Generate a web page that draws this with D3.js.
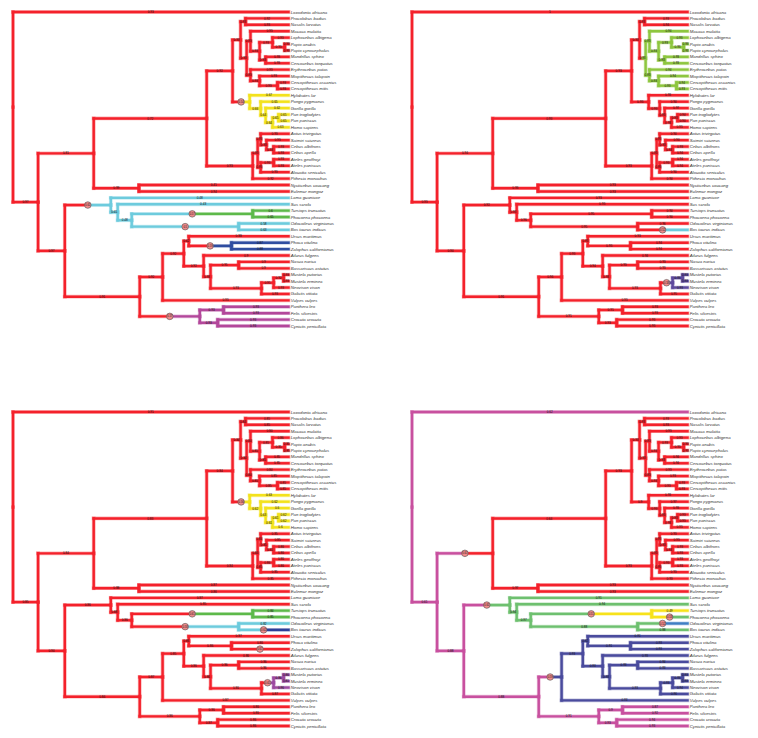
<!DOCTYPE html>
<html><head><meta charset="utf-8">
<script src="https://cdn.jsdelivr.net/npm/d3@7"></script>
<style>body{margin:0;background:#fff;} svg{display:block;}</style>
</head><body><svg id="c" width="758" height="738"></svg>
<script>
// ---------------- DATA ----------------
const taxa = ["Loxodonta africana","Procolobus badius","Nasalis larvatus","Macaca mulatta","Lophocebus albigena","Papio anubis","Papio cynocephalus","Mandrillus sphinx","Cercocebus torquatus","Erythrocebus patas","Miopithecus talapoin","Cercopithecus ascanius","Cercopithecus mitis","Hylobates lar","Pongo pygmaeus","Gorilla gorilla","Pan troglodytes","Pan paniscus","Homo sapiens","Aotus trivirgatus","Saimiri sciureus","Cebus albifrons","Cebus apella","Ateles geoffroyi","Ateles paniscus","Alouatta seniculus","Pithecia monachus","Nycticebus coucang","Eulemur mongoz","Lama guanicoe","Sus scrofa","Tursiops truncatus","Phocoena phocoena","Odocoileus virginianus","Bos taurus indicus","Ursus maritimus","Phoca vitulina","Zalophus californianus","Ailurus fulgens","Nasua narica","Bassariscus astutus","Mustela putorius","Mustela erminea","Neovison vison","Galictis vittata","Vulpes vulpes","Panthera leo","Felis silvestris","Crocuta crocuta","Cynictis penicillata"];

// topology: leaves are indices into taxa
const treeNewick = "(0,((((((1,2)Colobinae,((3,((4,(5,6)Papio)LophPap,(7,8)MandCerc)PapNode2)Papionini,(9,(10,(11,12)Cerco)MioCerco)Cercopithecini)Cercopithecinae)Cercopithecidae,(13,(14,(15,((16,17)Pan,18)Hominini)Homininae)Hominidae)Hominoidea)Catarrhini,(((19,(20,(21,22)Cebus)SaimCebus)Cebidae,((23,24)Ateles,25)Atelidae)CebAtel,26)Platyrrhini)Anthropoidea,(27,28)Strepsirrhini)Primates,((29,(30,((31,32)Cetacea,(33,34)Ruminantia)WhipRum)SusNode)Cetartiodactyla,((((35,(36,37)Pinnipedia)UrsPinn,(38,((39,40)Procyonidae,(((41,42)Mustela,43)MustNeo,44)Mustelidae)ProcMust)Musteloidea)Arctoidea,45)Caniformia,((46,47)Felidae,(48,49)HyaenHerp)Feliformia)Carnivora)Laurasiatheria)Boreoeutheria)Root;";

// node ages (tips = 0)
const nodeNames = ["Root","Boreoeutheria","Primates","Anthropoidea","Catarrhini","Cercopithecidae","Colobinae","Cercopithecinae","Papionini","PapNode2","LophPap","Papio","MandCerc","Cercopithecini","MioCerco","Cerco","Hominoidea","Hominidae","Homininae","Hominini","Pan","Platyrrhini","CebAtel","Cebidae","SaimCebus","Cebus","Atelidae","Ateles","Strepsirrhini","Laurasiatheria","Cetartiodactyla","SusNode","WhipRum","Cetacea","Ruminantia","Carnivora","Caniformia","Arctoidea","UrsPinn","Pinnipedia","Musteloidea","ProcMust","Procyonidae","Mustelidae","MustNeo","Mustela","Feliformia","Felidae","HyaenHerp"];
const nodeAgeValues = [100,90.9,70.7,29.7,20.3,17.4,15.6,15.2,13.8,10.5,5.8,1.4,8.3,13.8,10.5,4.0,14.1,10.1,8.3,5.8,3.6,13.0,11.2,10.1,8.0,5.4,10.1,5.4,54.3,81.2,64.5,62.0,56.9,13.0,18.1,54.0,45.7,38.0,36.2,20.7,30.8,28.3,18.1,9.8,5.4,1.8,32.2,23.6,25.7];

// edge labels (preorder edge order) for each panel
const labelsA = [0.93,0.97,0.81,0.72,0.92,0.93,0.93,0.92,0.93,0.93,0.93,0.93,0.93,0.93,0.93,0.93,0.93,0.93,0.93,0.93,0.93,0.93,0.93,0.93,0.93,0.93,0.93,0.93,
 0.54,0.67,0.66,0.65,0.64,0.62,0.64,0.65,0.65,0.65,0.63,
 0.93,0.93,0.93,0.93,0.93,0.93,0.93,0.93,0.93,0.93,0.93,0.93,0.93,0.93,0.92,
 0.99,0.41,0.94,
 0.97,0.61,0.48,0.65,0.43,0.48,0.57,0.6,0.65,0.5,0.58,0.63,
 0.91,0.92,0.92,0.62,0.88,0.59,0.87,0.88,0.92,0.9,0.93,0.91,0.9,0.9,0.93,0.91,0.92,0.93,0.93,0.93,0.93,0.93,
 0.57,0.93,0.93,0.93,0.93,0.93,0.93];
const labelsB = [1,0.93,0.94,0.93,0.93,0.93,0.93,0.93,0.94,0.93,0.93,0.94,0.93,0.93,0.93,0.93,0.93,0.93,0.93,0.93,0.93,0.93,0.94,0.93,0.94,0.93,0.94,0.93,
 0.93,0.93,0.93,0.94,0.93,0.97,0.93,0.93,0.94,0.94,0.93,
 0.93,0.93,0.93,0.94,0.93,0.94,0.93,0.93,0.94,0.93,0.93,0.94,0.94,0.94,0.94,
 0.93,0.93,0.93,
 0.94,0.92,0.93,0.93,0.93,0.96,0.95,0.94,0.94,0.95,0.96,0.52,
 0.91,0.94,0.93,0.93,0.93,0.93,0.94,0.94,0.94,0.94,0.93,0.93,0.93,0.93,0.93,0.58,0.93,0.93,0.93,0.93,0.95,0.93,
 0.91,0.91,0.93,0.93,0.93,0.93,0.93];
const labelsC = [0.91,0.85,0.84,0.83,0.84,0.84,0.84,0.85,0.85,0.84,0.84,0.84,0.85,0.85,0.86,0.85,0.85,0.85,0.85,0.85,0.85,0.84,0.84,0.85,0.85,0.85,0.85,0.85,
 0.56,0.63,0.62,0.62,0.63,0.6,0.61,0.61,0.62,0.62,0.6,
 0.84,0.84,0.84,0.85,0.85,0.85,0.85,0.86,0.86,0.85,0.86,0.86,0.86,0.85,0.85,
 0.88,0.87,0.86,
 0.94,0.86,0.87,0.88,0.85,0.86,0.61,0.84,0.85,0.58,0.82,0.62,
 0.84,0.87,0.85,0.86,0.87,0.86,0.86,0.61,0.86,0.86,0.86,0.86,0.86,0.86,0.86,0.61,0.86,0.86,0.81,0.96,0.87,0.87,
 0.86,0.86,0.86,0.86,0.87,0.86,0.86];
const labelsD = [0.62,0.61,0.61,0.64,0.93,0.93,0.93,0.93,0.93,0.93,0.93,0.93,0.93,0.93,0.93,0.93,0.93,0.93,0.93,0.94,0.94,0.93,0.93,0.93,0.93,0.93,0.93,0.93,
 0.9,0.93,0.93,0.97,0.93,0.93,0.93,0.93,0.93,0.93,0.93,
 0.93,0.93,0.93,0.93,0.93,0.93,0.93,0.93,0.93,0.93,0.93,0.93,0.93,0.93,0.93,
 0.97,0.93,0.93,
 0.88,0.61,0.91,0.94,0.94,0.97,0.51,0.49,0.53,0.88,0.52,0.88,
 0.88,0.59,0.93,0.92,0.91,0.91,0.93,0.93,0.93,0.93,0.93,0.93,0.94,0.93,0.93,0.93,0.93,0.93,0.93,0.94,0.96,0.93,
 0.91,0.9,0.87,0.92,0.93,0.94,0.93];

// state colours per panel: base state, then clades whose state changes at mid-branch
const baseA = "#f4212b", paintNodesA = ["Hominoidea","Cetartiodactyla","Cetacea","Pinnipedia","Feliformia"], paintColorsA = ["#f3e21c","#6dcbdd","#5db94a","#2f4da0","#b3479b"];
const markA = ["Hominoidea","Cetartiodactyla","Cetacea","Ruminantia","Pinnipedia","Feliformia"];
const baseB = "#f4212b", paintNodesB = ["Cercopithecinae","34","MustNeo"], paintColorsB = ["#8ec63f","#6dcbdd","#5e4a9d"];
const markB = ["34","MustNeo"];
const baseC = "#f4212b", paintNodesC = ["Hominoidea","Cetacea","Ruminantia","34","MustNeo"], paintColorsC = ["#f3e21c","#5db94a","#6dcbdd","#2d3f99","#9d4aa0"];
const markC = ["Hominoidea","Cetacea","Ruminantia","34","37","MustNeo"];
const baseD = "#c8509f", paintNodesD = ["Primates","Cetartiodactyla","Cetacea","32","33","Caniformia"], paintColorsD = ["#f4212b","#6ec06f","#f7e21a","#6ec06f","#3f7fc3","#4a4b9d"];
const markD = ["Primates","Cetartiodactyla","Cetacea","32","33","Caniformia"];

// ---------------- DRAW ----------------
function parseNewick(s){
  let i=0;
  function node(){
    const n={children:[]};
    if(s[i]==='('){ i++; n.children.push(node()); while(s[i]===','){ i++; n.children.push(node()); } i++; }
    let name=''; while(i<s.length && !',();'.includes(s[i])) name+=s[i++];
    n.name=name; if(!n.children.length) delete n.children;
    return n;
  }
  return node();
}
const nodeAges = {}; nodeNames.forEach((n,i)=>nodeAges[n]=nodeAgeValues[i]);

const panels = [
  {ox:13, oy:12, base:baseA, pn:paintNodesA, pc:paintColorsA, marks:markA, labels:labelsA},
  {ox:412,oy:12, base:baseB, pn:paintNodesB, pc:paintColorsB, marks:markB, labels:labelsB},
  {ox:13, oy:412,base:baseC, pn:paintNodesC, pc:paintColorsC, marks:markC, labels:labelsC},
  {ox:412,oy:412,base:baseD, pn:paintNodesD, pc:paintColorsD, marks:markD, labels:labelsD}
];

const svg = d3.select("#c");
const xScale = d3.scaleLinear().domain([100,0]).range([0,275.5]);
const yScale = d3.scaleLinear().domain([0,taxa.length-1]).range([0,314]);

panels.forEach(P=>{
  const root = d3.hierarchy(parseNewick(treeNewick));
  root.eachAfter(n=>{
    if(!n.children){ n.age=0; n.yi=+n.data.name; }
    else { n.age=nodeAges[n.data.name]; n.yi=(n.children[0].yi+n.children[n.children.length-1].yi)/2; }
  });
  const paint = {}; P.pn.forEach((k,i)=>paint[k]=P.pc[i]);
  const edges=[];
  root.eachBefore(n=>{
    if(!n.parent){ n.cEnd=P.base; return; }
    n.cStart=n.parent.cEnd;
    n.cEnd = paint[n.data.name] || n.cStart;
    edges.push(n);
  });
  const g = svg.append("g").attr("transform",`translate(${P.ox},${P.oy})`);
  const X = a=>xScale(a), Y = i=>yScale(i);
  const segs=[];
  edges.forEach(n=>{
    const p=n.parent, x0=X(p.age), x1=X(n.age), y=Y(n.yi), yp=Y(p.yi), xm=(x0+x1)/2;
    segs.push({x1:x0,y1:yp,x2:x0,y2:y,c:n.cStart});
    if(n.cEnd!==n.cStart){
      segs.push({x1:x0,y1:y,x2:xm,y2:y,c:n.cStart});
      segs.push({x1:xm,y1:y,x2:x1,y2:y,c:n.cEnd});
    } else segs.push({x1:x0,y1:y,x2:x1,y2:y,c:n.cStart});
  });
  // halo
  g.append("g").selectAll("line").data(segs).join("line")
    .attr("x1",d=>d.x1).attr("y1",d=>d.y1).attr("x2",d=>d.x2).attr("y2",d=>d.y2)
    .attr("stroke",d=>d.c).attr("stroke-opacity",0.35).attr("stroke-width",3.8).attr("stroke-linecap","square");
  g.append("g").selectAll("line").data(segs).join("line")
    .attr("x1",d=>d.x1).attr("y1",d=>d.y1).attr("x2",d=>d.x2).attr("y2",d=>d.y2)
    .attr("stroke",d=>d.c).attr("stroke-width",2.4).attr("stroke-linecap","square");
  // edge labels
  const lab = edges.map((n,i)=>({n, v:P.labels[i], x:(X(n.parent.age)+X(n.age))/2, y:Y(n.yi), mark:P.marks.includes(n.data.name)}));
  g.append("g").selectAll("circle").data(lab.filter(d=>d.mark)).join("circle")
    .attr("cx",d=>d.x).attr("cy",d=>d.y).attr("r",3.3)
    .attr("fill","#ef8a8a").attr("stroke","#555").attr("stroke-width",0.6);
  g.append("g").selectAll("text").data(lab.filter(d=>d.v!==undefined)).join("text")
    .attr("x",d=>d.x).attr("y",d=>d.y+1.1)
    .attr("text-anchor","middle").attr("font-family","Liberation Sans, Arial, sans-serif")
    .attr("font-size",d=>d.mark?2.6:3.1).attr("fill","#111")
    .text(d=>String(d.v));
  // tip labels
  g.append("g").selectAll("text").data(root.leaves()).join("text")
    .attr("x",d=>X(0)+2.2).attr("y",d=>Y(d.yi)+1.5)
    .attr("font-family","Liberation Sans, Arial, sans-serif").attr("font-style","italic")
    .attr("font-size",4.3).attr("fill","#333")
    .text(d=>taxa[+d.data.name]);
});
</script>
</body></html>
